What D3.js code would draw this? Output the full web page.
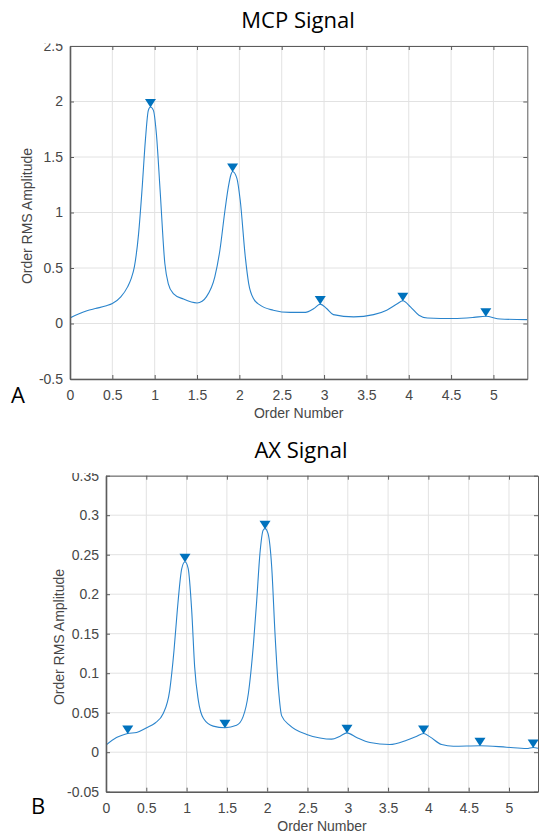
<!DOCTYPE html>
<html>
<head>
<meta charset="utf-8">
<script src="https://cdn.jsdelivr.net/npm/d3@7"></script>
<style>
  body { margin: 0; background: #fff; }
</style>
</head>
<body>
<script>
//=====================
// Order spectra: MCP and AX signals
//=====================

// MCP signal (panel A)
let mcpOrder = [0.00, 0.10, 0.20, 0.30, 0.43, 0.50, 0.60, 0.68, 0.72, 0.76, 0.81, 0.85, 0.89, 0.925, 0.95, 0.985,
  1.02, 1.064, 1.12, 1.16, 1.22, 1.34, 1.50, 1.56, 1.61, 1.71, 1.77, 1.83, 1.87, 1.90, 1.92, 1.97,
  2.01, 2.07, 2.11, 2.17, 2.245, 2.40, 2.60, 2.78, 2.88, 2.955, 3.03, 3.11, 3.35, 3.585, 3.74, 3.86,
  3.93, 4.02, 4.12, 4.22, 4.53, 4.77, 4.91, 5.08, 5.40];
let mcpAmp = [0.05, 0.085, 0.115, 0.135, 0.16, 0.18, 0.24, 0.33, 0.40, 0.51, 0.81, 1.20, 1.65, 1.92, 1.95, 1.92,
  1.71, 1.20, 0.54, 0.36, 0.27, 0.22, 0.185, 0.20, 0.24, 0.42, 0.66, 1.02, 1.23, 1.34, 1.37, 1.31,
  1.11, 0.60, 0.36, 0.22, 0.165, 0.12, 0.10, 0.10, 0.135, 0.175, 0.135, 0.08, 0.06, 0.08, 0.12, 0.175,
  0.205, 0.15, 0.075, 0.05, 0.045, 0.055, 0.065, 0.04, 0.035];
let mcpPeakOrder = [0.95, 1.92, 2.955, 3.93, 4.91];
let mcpPeakAmp = [1.95, 1.37, 0.175, 0.205, 0.065];
let mcpXTicks = [0, 0.5, 1, 1.5, 2, 2.5, 3, 3.5, 4, 4.5, 5];
let mcpYTicks = [-0.5, 0, 0.5, 1, 1.5, 2, 2.5];

// AX signal (panel B)
let axOrder = [0.00, 0.13, 0.20, 0.27, 0.38, 0.505, 0.61, 0.71, 0.79, 0.844, 0.885, 0.94, 0.98, 1.02, 1.063,
  1.10, 1.145, 1.21, 1.33, 1.476, 1.62, 1.70, 1.766, 1.83, 1.87, 1.91, 1.95, 1.973, 2.01, 2.056, 2.097,
  2.14, 2.18, 2.28, 2.49, 2.655, 2.80, 2.90, 2.99, 3.11, 3.275, 3.52, 3.73, 3.85, 3.94, 4.02, 4.165,
  4.31, 4.64, 4.97, 5.22, 5.30, 5.36];
let axAmp = [0.009, 0.0186, 0.0215, 0.0236, 0.025, 0.031, 0.037, 0.049, 0.078, 0.129, 0.18, 0.2325, 0.241, 0.2325, 0.18,
  0.108, 0.066, 0.0426, 0.033, 0.031, 0.034, 0.0447, 0.074, 0.1375, 0.192, 0.2515, 0.281, 0.283, 0.277, 0.2345, 0.150,
  0.080, 0.046, 0.034, 0.0224, 0.018, 0.0165, 0.020, 0.0245, 0.0186, 0.0122, 0.0097, 0.0152, 0.020, 0.0236, 0.0194, 0.0097,
  0.0076, 0.0082, 0.0063, 0.0046, 0.006, 0.005];
let axPeakOrder = [0.27, 0.98, 1.476, 1.973, 2.99, 3.94, 4.64, 5.30];
let axPeakAmp = [0.0236, 0.241, 0.031, 0.283, 0.0245, 0.0236, 0.0082, 0.006];
let axXTicks = [0, 0.5, 1, 1.5, 2, 2.5, 3, 3.5, 4, 4.5, 5];
let axYTicks = [-0.05, 0, 0.05, 0.1, 0.15, 0.2, 0.25, 0.3, 0.35];

let width = 540;
let height = 837;
let lineColor = '#2a84cc';
let markColor = '#0072BD';
let axisColor = '#5c5c5c';
let textColor = '#474747';
let tickFont = '"Liberation Sans", Arial, sans-serif';
let titleFont = '"Open Sans", sans-serif';

let svg = d3.select('body').append('svg')
  .attr('width', width)
  .attr('height', height);

let drawPanel = (cfg) => {
  let g = svg.append('g');
  let x = d3.scaleLinear().domain(cfg.xDomain).range([cfg.left, cfg.right]);
  let y = d3.scaleLinear().domain(cfg.yDomain).range([cfg.bottom, cfg.top]);

  // Grid
  g.append('g').selectAll('line').data(cfg.xTicks).join('line')
    .attr('x1', d => x(d)).attr('x2', d => x(d))
    .attr('y1', cfg.top).attr('y2', cfg.bottom)
    .attr('stroke', '#e2e2e2');
  g.append('g').selectAll('line').data(cfg.yTicks).join('line')
    .attr('x1', cfg.left).attr('x2', cfg.right)
    .attr('y1', d => y(d)).attr('y2', d => y(d))
    .attr('stroke', '#e2e2e2');

  // Clip for the curve
  let clipId = 'clip-' + cfg.name;
  svg.append('clipPath').attr('id', clipId).append('rect')
    .attr('x', cfg.left).attr('y', cfg.top)
    .attr('width', cfg.right - cfg.left).attr('height', cfg.bottom - cfg.top);

  // Order spectrum
  let line = d3.line()
    .x(d => x(d[0]))
    .y(d => y(d[1]))
    .curve(d3.curveMonotoneX);
  g.append('path')
    .datum(d3.zip(cfg.xs, cfg.ys))
    .attr('clip-path', 'url(#' + clipId + ')')
    .attr('d', line)
    .attr('fill', 'none')
    .attr('stroke', lineColor)
    .attr('stroke-width', 1.1);

  // Peaks
  g.append('g').selectAll('path').data(d3.zip(cfg.px, cfg.py)).join('path')
    .attr('transform', d => 'translate(' + x(d[0]) + ',' + y(d[1]) + ')')
    .attr('d', 'M-5.5,-8L5.5,-8L0,0.5Z')
    .attr('fill', markColor);

  // Axes
  let fmt = d => String(d);
  let bottom = g.append('g')
    .attr('transform', 'translate(0,' + cfg.bottom + ')')
    .call(d3.axisBottom(x).tickValues(cfg.xTicks).tickFormat(fmt)
      .tickSizeInner(-4).tickSizeOuter(0).tickPadding(11));
  let left = g.append('g')
    .attr('transform', 'translate(' + cfg.left + ',0)')
    .call(d3.axisLeft(y).tickValues(cfg.yTicks).tickFormat(fmt)
      .tickSizeInner(-4).tickSizeOuter(0).tickPadding(7));
  let top = g.append('g')
    .attr('transform', 'translate(0,' + cfg.top + ')')
    .call(d3.axisTop(x).tickValues(cfg.xTicks).tickFormat('')
      .tickSizeInner(-4).tickSizeOuter(0));
  let right = g.append('g')
    .attr('transform', 'translate(' + cfg.right + ',0)')
    .call(d3.axisRight(y).tickValues(cfg.yTicks).tickFormat('')
      .tickSizeInner(-4).tickSizeOuter(0));

  [bottom, left, top, right].forEach((a) => {
    a.selectAll('.domain, line').attr('stroke', axisColor);
    a.selectAll('text')
      .attr('fill', textColor)
      .style('font-family', tickFont)
      .style('font-size', '14px');
  });
  bottom.select('.domain').attr('stroke-width', 1.6);
  left.select('.domain').attr('stroke-width', 1.6);

  // top tick label is cut off by the figure crop (local coords of left axis)
  let labClip = 'labclip-' + cfg.name;
  svg.append('clipPath').attr('id', labClip).append('rect')
    .attr('x', -cfg.left).attr('y', cfg.labelCut)
    .attr('width', cfg.left + 4).attr('height', height);
  left.attr('clip-path', 'url(#' + labClip + ')');

  // Texts
  g.append('text')
    .attr('x', cfg.titleX).attr('y', cfg.titleY)
    .attr('text-anchor', 'middle')
    .style('font-family', titleFont).style('font-size', '22px')
    .attr('fill', '#000')
    .text(cfg.title);
  g.append('text')
    .attr('x', cfg.tagX).attr('y', cfg.tagY)
    .style('font-family', titleFont).style('font-size', '22px')
    .attr('fill', '#000')
    .text(cfg.tag);
  g.append('text')
    .attr('x', (cfg.left + cfg.right) / 2).attr('y', cfg.xLabelY)
    .attr('text-anchor', 'middle')
    .style('font-family', tickFont).style('font-size', '14px')
    .attr('fill', textColor)
    .text('Order Number');
  g.append('text')
    .attr('transform', 'translate(' + cfg.yLabelX + ',' + cfg.yLabelY + ') rotate(-90)')
    .attr('text-anchor', 'middle')
    .style('font-family', tickFont).style('font-size', '14px')
    .attr('fill', textColor)
    .text('Order RMS Amplitude');
};

drawPanel({
  name: 'mcp', title: 'MCP Signal', tag: 'A',
  xs: mcpOrder, ys: mcpAmp, px: mcpPeakOrder, py: mcpPeakAmp,
  xTicks: mcpXTicks, yTicks: mcpYTicks,
  xDomain: [0, 5.4], yDomain: [-0.5, 2.5],
  left: 70, right: 527.3, top: 46, bottom: 379,
  titleX: 298, titleY: 28, tagX: 11, tagY: 403,
  xLabelY: 418, yLabelX: 32, yLabelY: 216, labelCut: 43.5
});

drawPanel({
  name: 'ax', title: 'AX Signal', tag: 'B',
  xs: axOrder, ys: axAmp, px: axPeakOrder, py: axPeakAmp,
  xTicks: axXTicks, yTicks: axYTicks,
  xDomain: [0, 5.36], yDomain: [-0.05, 0.35],
  left: 106, right: 538, top: 475.7, bottom: 791.7,
  titleX: 301, titleY: 458, tagX: 31, tagY: 814,
  xLabelY: 831, yLabelX: 64, yLabelY: 637, labelCut: 473
});
</script>
</body>
</html>
